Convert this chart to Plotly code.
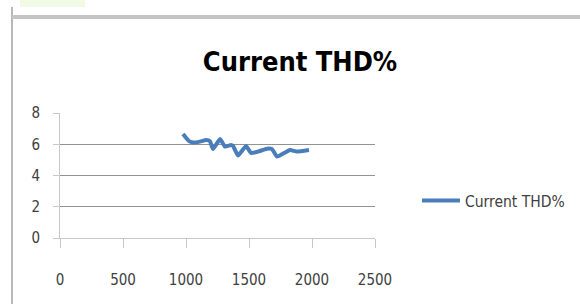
import plotly.graph_objects as go

# Data
rpm = [976, 1024, 1063, 1111, 1159, 1190, 1214, 1270, 1310, 1357, 1373, 1413,
       1476, 1516, 1571, 1651, 1683, 1722, 1786, 1825, 1881, 1976]
thd = [6.65, 6.20, 6.11, 6.17, 6.27, 6.20, 5.69, 6.33, 5.85, 5.95, 5.90, 5.28,
       5.89, 5.44, 5.53, 5.73, 5.69, 5.21, 5.47, 5.63, 5.53, 5.63]
series_name = "Current THD%"
x_ticks = [0, 500, 1000, 1500, 2000, 2500]
y_ticks = [0, 2, 4, 6, 8]

W, H = 580, 304
L, R, T, B = 60, 375, 113, 238  # plot area in pixels


def px(xp):
    return (xp - L) / (R - L)


def py(yp):
    return (B - yp) / (B - T)


FONT = "DejaVu Sans Condensed, sans-serif"

fig = go.Figure()
fig.add_trace(go.Scatter(
    x=rpm, y=thd, mode="lines", name=series_name,
    line=dict(color="#4a7ebb", width=4, shape="spline", smoothing=0.4),
))

tick_font = dict(family=FONT, size=15, color="#404040")

fig.update_layout(
    width=W, height=H,
    margin=dict(l=L, r=W - R, t=T, b=H - B, pad=0, autoexpand=False),
    paper_bgcolor="white", plot_bgcolor="white",
    showlegend=True,
    title=dict(text="<b>Current THD%</b>", x=300 / W, xanchor="center",
               y=(H - 62) / H, yanchor="middle", xref="container", yref="container",
               font=dict(family=FONT, size=27, color="black")),
    legend=dict(x=px(417), y=py(201), xanchor="left", yanchor="middle",
                bgcolor="rgba(0,0,0,0)", borderwidth=0,
                font=dict(family=FONT, size=15.5, color="#404040"),
                itemwidth=38),
    xaxis=dict(range=[0, 2500], tickvals=x_ticks, showgrid=False, zeroline=False,
               showline=True, linecolor="#c8c8c8", linewidth=1,
               ticks="outside", ticklen=9, tickcolor="#c8c8c8", automargin=False,
               ticklabelstandoff=19, tickfont=tick_font, fixedrange=True),
    yaxis=dict(range=[0, 8], tickvals=y_ticks, showgrid=True, gridcolor="#929292",
               gridwidth=1, zeroline=False, automargin=False,
               showline=True, linecolor="#c8c8c8", linewidth=1,
               ticks="outside", ticklen=6, tickcolor="#c8c8c8",
               ticklabelstandoff=10, tickfont=tick_font, fixedrange=True),
    shapes=[
        dict(type="rect", xref="paper", yref="paper", x0=px(20), x1=px(85),
             y0=py(7), y1=py(0), fillcolor="#f1fae4", line=dict(width=0), layer="below"),
        dict(type="line", xref="paper", yref="paper", x0=px(12), x1=px(12),
             y0=py(7), y1=py(304), line=dict(color="#b8b8b8", width=2)),
        dict(type="line", xref="paper", yref="paper", x0=px(12), x1=px(580),
             y0=py(17), y1=py(17), line=dict(color="#c4c4c4", width=4)),
    ],
)

fig.write_html("out.html", config={"displayModeBar": False},
               post_script="document.body.style.margin='0';document.body.style.padding='0';")
